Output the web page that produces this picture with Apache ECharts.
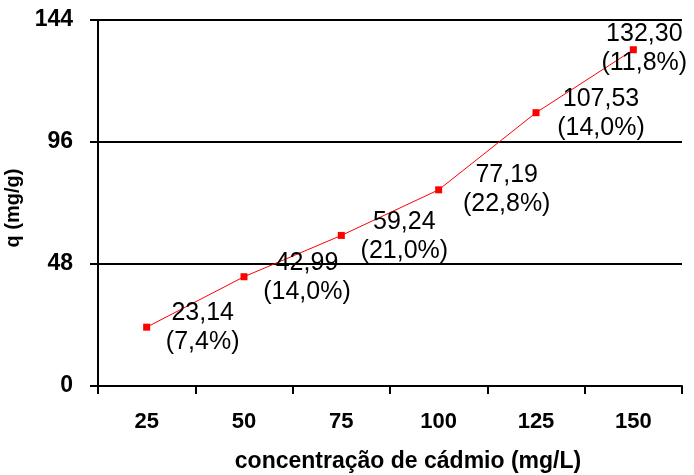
<!DOCTYPE html>
<html><head><meta charset="utf-8">
<script src="https://cdn.jsdelivr.net/npm/echarts@6/dist/echarts.min.js"></script>
<style>html,body{margin:0;padding:0;background:#fff}#c{width:694px;height:475px}</style>
</head><body><div id="c"></div>
<script>
const categories = ['25', '50', '75', '100', '125', '150'];
const qValues = [23.14, 42.99, 59.24, 77.19, 107.53, 132.30];
const pctLabels = ['7,4%', '14,0%', '21,0%', '22,8%', '14,0%', '11,8%'];
const yTicks = [0, 48, 96, 144];

const labelOffsets = [[56, 0], [63, 1], [63, 1], [68, 0], [65, 1], [11, -1]];
const fmt = v => v.toFixed(2).replace('.', ',');

const chart = echarts.init(document.getElementById('c'));
chart.setOption({
  animation: false,
  backgroundColor: '#fff',
  grid: {left: 98, right: 12, top: 20, bottom: 89, containLabel: false, outerBoundsMode: 'none'},
  xAxis: {
    type: 'category', data: categories, boundaryGap: true,
    name: 'concentração de cádmio (mg/L)', nameLocation: 'middle', nameGap: 64,
    nameTextStyle: {fontFamily: 'Liberation Sans, Arial', fontWeight: 'bold', fontSize: 23, color: '#000', padding: [0, 0, 0, 36]},
    axisLine: {lineStyle: {color: '#000', width: 2}},
    axisTick: {show: true, length: 8, interval: 0, alignWithLabel: false, lineStyle: {color: '#000', width: 2}},
    axisLabel: {margin: 25, fontFamily: 'Liberation Sans, Arial', fontWeight: 'bold', fontSize: 22, color: '#000', verticalAlign: 'top'},
    splitLine: {show: false}
  },
  yAxis: {
    type: 'value', min: yTicks[0], max: yTicks[yTicks.length - 1], interval: yTicks[1] - yTicks[0],
    name: 'q (mg/g)', nameLocation: 'middle', nameGap: 69, nameRotate: 90,
    nameTextStyle: {fontFamily: 'Liberation Sans, Arial', fontWeight: 'bold', fontSize: 20, color: '#000', padding: [0, 10, 0, 0]},
    axisLine: {show: true, lineStyle: {color: '#000', width: 2}},
    axisTick: {show: true, length: 8, lineStyle: {color: '#000', width: 2}},
    axisLabel: {margin: 25, fontFamily: 'Liberation Sans, Arial', fontWeight: 'bold', fontSize: 23, color: '#000'},
    splitLine: {show: true, lineStyle: {color: '#000', width: 2}}
  },
  series: [{
    type: 'line',
    data: qValues.map((v, i) => ({
      value: v,
      label: {
        show: true, position: 'inside', offset: labelOffsets[i],
        formatter: fmt(v) + '\n(' + pctLabels[i] + ')'
      }
    })),
    symbol: 'rect', symbolSize: 7,
    itemStyle: {color: '#ff0000'},
    lineStyle: {color: '#ff0000', width: 1},
    label: {
      fontFamily: 'Liberation Sans, Arial', fontSize: 25, lineHeight: 29, color: '#000',
      align: 'center', verticalAlign: 'middle'
    },
    z: 5
  }]
});
</script>
</body></html>
